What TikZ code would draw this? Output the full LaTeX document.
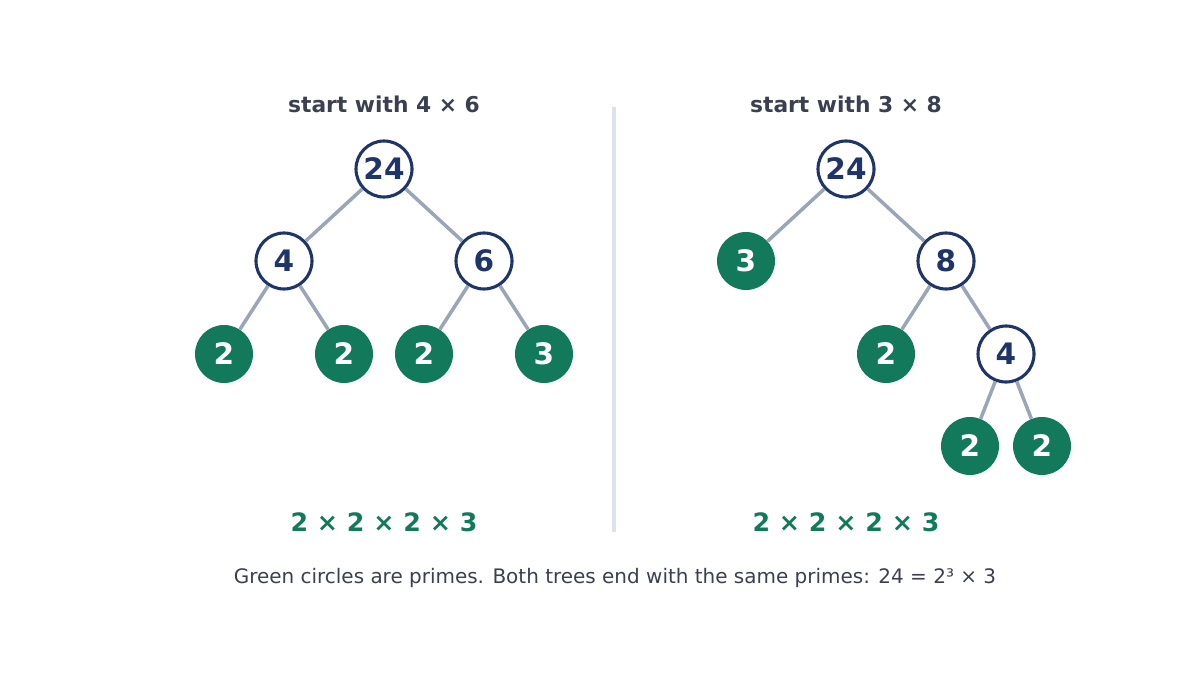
\documentclass[tikz,border=0pt]{standalone}
\usepackage{fontspec}
\setmainfont{DejaVu Sans}
\definecolor{navy}{HTML}{1F3468}
\definecolor{prime}{HTML}{127A5A}
\definecolor{edge}{HTML}{9AA5B8}
\definecolor{txt}{HTML}{3A4050}
\definecolor{divc}{HTML}{DDE2EE}
\begin{document}
\begin{tikzpicture}[x=0.025cm,y=-0.025cm,
  comp/.style={circle,draw=navy,line width=2.2pt,fill=white,minimum size=1.4cm,inner sep=0pt,text=navy,font=\fontsize{21}{24}\selectfont\bfseries},
  pr/.style={circle,fill=prime,minimum size=1.45cm,inner sep=0pt,text=white,font=\fontsize{21}{24}\selectfont\bfseries},
  e/.style={draw=edge,line width=2.5pt},
  title/.style={text=txt,font=\fontsize{15.5}{18}\selectfont\bfseries},
  res/.style={text=prime,font=\fontsize{18}{21}\selectfont\bfseries}]
\useasboundingbox (0,0) rectangle (1200,675);
\draw[divc,line width=2.2pt] (614,107) coordinate (d1) -- (614,532) coordinate (d2);
\node[title] (t1) at (384,104) {start with 4 × 6};
\node[title] (t2) at (846,104) {start with 3 × 8};
% left tree
\node[comp] (a) at (384,169) {24};
\node[comp] (b) at (284,261) {4};
\node[comp] (c) at (484,261) {6};
\node[pr] (l1) at (224,354) {2};
\node[pr] (l2) at (344,354) {2};
\node[pr] (l3) at (424,354) {2};
\node[pr] (l4) at (544,354) {3};
% right tree
\node[comp] (A) at (846,169) {24};
\node[pr] (B) at (746,261) {3};
\node[comp] (C) at (946,261) {8};
\node[pr] (D) at (886,354) {2};
\node[comp] (E) at (1006,354) {4};
\node[pr] (F) at (970,446) {2};
\node[pr] (G) at (1042,446) {2};
\begin{scope}[on background layer/.try]
\end{scope}
\foreach \p/\q in {a/b,a/c,b/l1,b/l2,c/l3,c/l4,A/B,A/C,C/D,C/E,E/F,E/G}
  \draw[e] (\p) -- (\q);
\node[res] (r1) at (384,522) {2 × 2 × 2 × 3};
\node[res] (r2) at (846,522) {2 × 2 × 2 × 3};
\node[text=txt,font=\fontsize{14.2}{17}\selectfont] (cap) at (615,578) {Green circles are primes. Both trees end with the same primes: 24 = 2³ × 3};
\end{tikzpicture}
\end{document}
